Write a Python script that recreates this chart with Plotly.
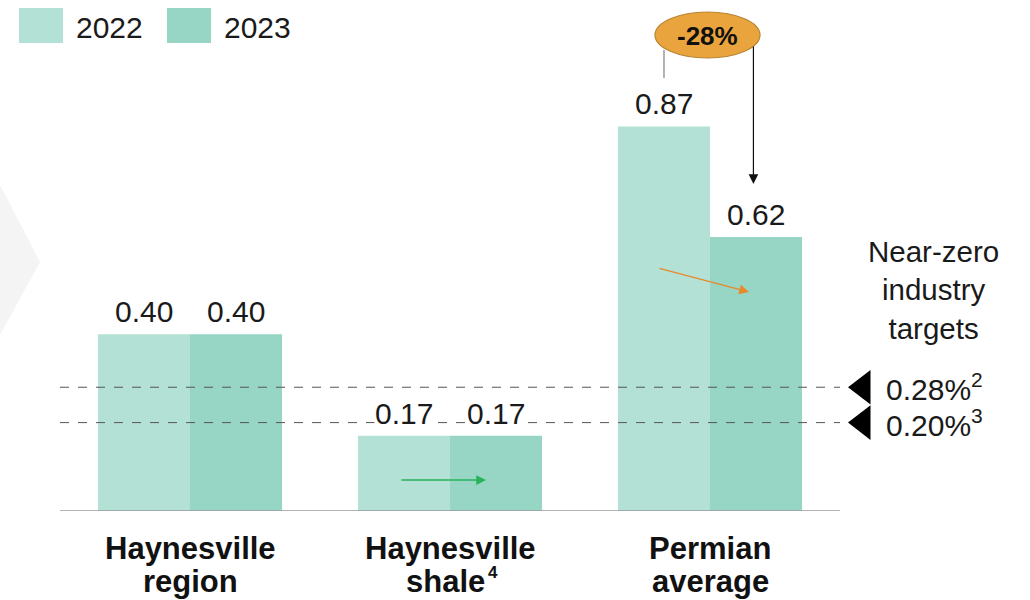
import plotly.graph_objects as go

# ---- data ----
categories = ["Haynesville\nregion", "Haynesville\nshale", "Permian\naverage"]
category_notes = ["", "4", ""]
years = ["2022", "2023"]
values_2022 = [0.40, 0.17, 0.87]
values_2023 = [0.40, 0.17, 0.62]
target_values = [0.28, 0.20]
target_labels = ["0.28%<sup>2</sup>", "0.20%<sup>3</sup>"]
change_label = "-28%"
targets_title = "Near-zero<br>industry<br>targets"

colors = ["#b4e1d5", "#97d5c5"]
FONT = "Liberation Sans, Arial, Helvetica, sans-serif"

W, H = 1030, 600
BOTTOM = 89
PLOT_H = H - BOTTOM
Y_SCALE = 442.0  # px per unit
X0, X_STEP = 190.0, 260.0

def px_x(px):
    return px / W

def px_y(py):
    return (PLOT_H - py) / PLOT_H

xs = list(range(len(categories)))
BARGAP = 0.292
half = (1 - BARGAP) / 4  # offset of each bar centre from category centre

fig = go.Figure()
for name, vals, col in zip(years, [values_2022, values_2023], colors):
    fig.add_trace(go.Bar(
        x=xs, y=vals, name=name, marker=dict(color=col, line=dict(width=0)),
        showlegend=False, hoverinfo="skip"))

# target markers (triangles)
fig.add_trace(go.Scatter(
    x=[(863 - X0) / X_STEP] * len(target_values), y=target_values,
    mode="markers", marker=dict(symbol="triangle-left", size=30, color="black"),
    showlegend=False, hoverinfo="skip", cliponaxis=False))

shapes = []
annotations = []

# baseline
shapes.append(dict(type="line", xref="x", yref="y", x0=-0.5, x1=2.5, y0=0, y1=0,
                   line=dict(color="#9a9a9a", width=1.5), layer="above"))
# dashed target lines
for tv in target_values:
    shapes.append(dict(type="line", xref="x", yref="y", x0=-0.5, x1=2.5, y0=tv, y1=tv,
                       line=dict(color="#555555", width=1, dash="dash"), layer="above"))

# background chevron
shapes.append(dict(type="path", xref="paper", yref="paper",
                   path=f"M 0 {px_y(185)} L {px_x(40)} {px_y(262)} L 0 {px_y(335)} Z",
                   fillcolor="#f4f4f4", line=dict(width=0), layer="below"))

# value labels
for sign, vals in [(-1, values_2022), (1, values_2023)]:
    for i, v in enumerate(vals):
        annotations.append(dict(x=i + sign * half, y=v, xref="x", yref="y",
                                text=f"{v:.2f}", showarrow=False, yanchor="bottom",
                                xanchor="center", yshift=5, bgcolor="white", borderpad=0,
                                font=dict(size=30, color="#1a1a1a", family=FONT)))

# category labels (two lines each) + footnote marks
for i, (c, note) in enumerate(zip(categories, category_notes)):
    lines = c.split("\n")
    for j, ln in enumerate(lines):
        shift = -5 if (note and j == len(lines) - 1) else 0
        annotations.append(dict(x=i, y=px_y(548 + 33 * j), xref="x", yref="paper",
                                xshift=shift, text=f"<b>{ln}</b>", showarrow=False,
                                xanchor="center", yanchor="middle",
                                font=dict(size=31, color="#111111", family=FONT)))
    if note:
        last_w = len(lines[-1]) * 0.511 * 31  # approximate bold width of last line
        annotations.append(dict(x=i, y=px_y(572), xref="x", yref="paper",
                                xshift=last_w / 2 - 4, text=f"<b>{note}</b>", showarrow=False,
                                xanchor="left", yanchor="middle",
                                font=dict(size=17, color="#111111", family=FONT)))

# legend
lx = [19, 167]
for k, (name, col) in enumerate(zip(years, colors)):
    shapes.append(dict(type="rect", xref="paper", yref="paper",
                       x0=px_x(lx[k]), x1=px_x(lx[k] + 44), y0=px_y(43), y1=px_y(8),
                       fillcolor=col, line=dict(width=0)))
    annotations.append(dict(x=px_x(lx[k] + 55), y=px_y(27), xref="paper", yref="paper",
                            text=name, showarrow=False, xanchor="left", yanchor="middle",
                            font=dict(size=30, color="#1a1a1a", family=FONT)))

# targets text
annotations.append(dict(x=(933 - X0) / X_STEP, y=px_y(290), xref="x", yref="paper",
                        text=targets_title, showarrow=False, align="center",
                        xanchor="center", yanchor="middle",
                        font=dict(size=29.5, color="#1a1a1a", family=FONT)))
for tv, tl in zip(target_values, target_labels):
    annotations.append(dict(x=(884 - X0) / X_STEP, y=tv, xref="x", yref="y",
                            text=tl, showarrow=False, xanchor="left", yanchor="middle",
                            font=dict(size=30, color="#1a1a1a", family=FONT)))

# -28% badge
pi = 2
shapes.append(dict(type="line", xref="x", yref="y",
                   x0=pi - half, x1=pi - half, y0=(PLOT_H - 50) / Y_SCALE, y1=(PLOT_H - 78) / Y_SCALE,
                   line=dict(color="#9a9a9a", width=1.5)))
annotations.append(dict(x=pi + half - 0.01, y=values_2023[pi] + 0.12, xref="x", yref="y",
                        ax=pi + half - 0.01, ay=(PLOT_H - 45) / Y_SCALE, axref="x", ayref="y",
                        showarrow=True, arrowhead=2, arrowsize=1.6, arrowwidth=1.2,
                        arrowcolor="#111111", text=""))
shapes.append(dict(type="circle", xref="x", yref="y",
                   x0=(655 - X0) / X_STEP, x1=(760 - X0) / X_STEP,
                   y0=(PLOT_H - 58) / Y_SCALE, y1=(PLOT_H - 12) / Y_SCALE,
                   fillcolor="#eaa43e", line=dict(color="#b9842f", width=1.2), layer="above"))
annotations.append(dict(x=(707 - X0) / X_STEP, y=(PLOT_H - 36) / Y_SCALE, xref="x", yref="y",
                        text=f"<b>{change_label}</b>", showarrow=False,
                        xanchor="center", yanchor="middle",
                        font=dict(size=26, color="#111111", family=FONT)))

# trend arrows
annotations.append(dict(x=(486 - X0) / X_STEP, y=(PLOT_H - 480) / Y_SCALE, xref="x", yref="y",
                        ax=(400 - X0) / X_STEP, ay=(PLOT_H - 480) / Y_SCALE, axref="x", ayref="y",
                        showarrow=True, arrowhead=2, arrowsize=1.3, arrowwidth=1.5,
                        arrowcolor="#27b35a", text=""))
annotations.append(dict(x=(749 - X0) / X_STEP, y=(PLOT_H - 292) / Y_SCALE, xref="x", yref="y",
                        ax=(658 - X0) / X_STEP, ay=(PLOT_H - 268) / Y_SCALE, axref="x", ayref="y",
                        showarrow=True, arrowhead=2, arrowsize=1.3, arrowwidth=1.5,
                        arrowcolor="#e8892a", text=""))

fig.update_layout(
    width=W, height=H,
    margin=dict(l=0, r=0, t=0, b=BOTTOM, pad=0),
    paper_bgcolor="white", plot_bgcolor="white",
    barmode="group", bargap=BARGAP, bargroupgap=0,
    xaxis=dict(range=[-X0 / X_STEP, (W - X0) / X_STEP], visible=False, fixedrange=True),
    yaxis=dict(range=[0, PLOT_H / Y_SCALE], visible=False, fixedrange=True),
    shapes=shapes, annotations=annotations,
    font=dict(family=FONT),
)

fig.write_html("out.html", config={"displayModeBar": False},
               post_script="document.body.style.margin='0';document.body.style.overflow='hidden';")
